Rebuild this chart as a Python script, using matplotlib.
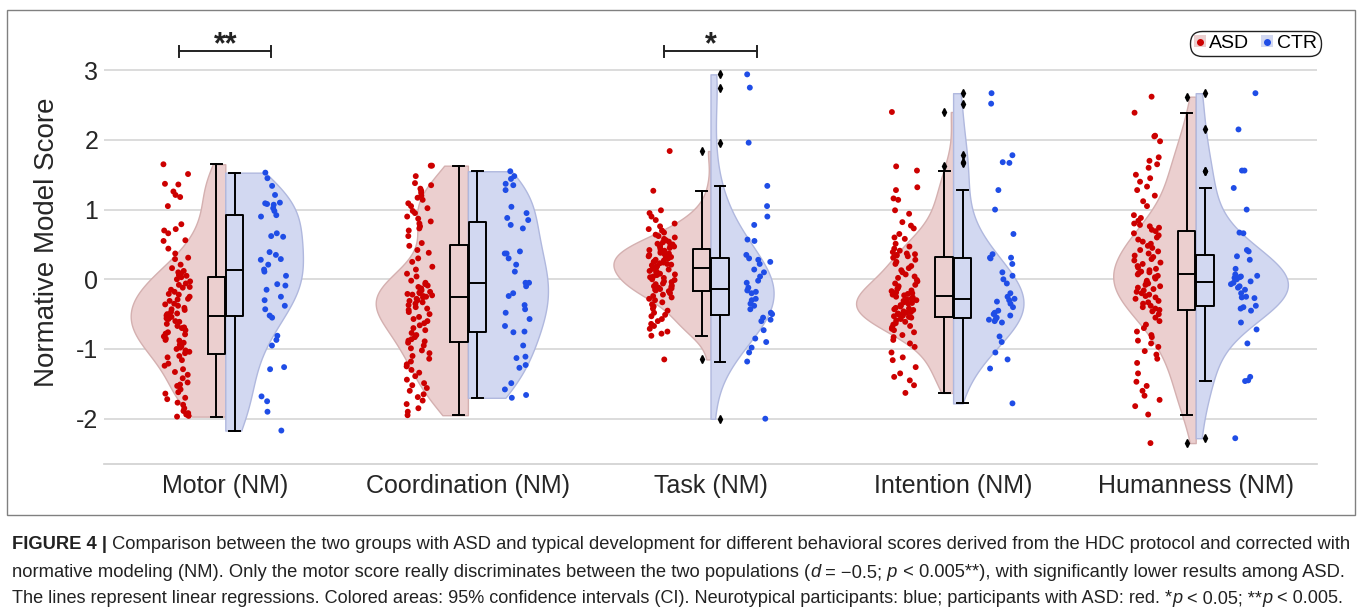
import numpy as np
import matplotlib
matplotlib.use('Agg')
import matplotlib.pyplot as plt
from matplotlib.patches import Patch, Rectangle
from matplotlib.lines import Line2D
from matplotlib import font_manager

categories = ['Motor (NM)', 'Coordination (NM)', 'Task (NM)', 'Intention (NM)', 'Humanness (NM)']
groups = ['ASD', 'CTR']

# scores (ASD ~100 per score, CTR ~40 per score)
motor_asd = [1.65, 1.51, 1.37, 1.36, 1.26, 1.21, 1.18, 1.05, 0.79, 0.72,
             0.70, 0.66, 0.56, 0.55, 0.44, 0.37, 0.31, 0.29, 0.21, 0.16,
             0.12, 0.10, 0.08, 0.06, 0.05, 0.03, 0.00, -0.03, -0.06, -0.08,
             -0.11, -0.12, -0.15, -0.18, -0.21, -0.22, -0.25, -0.28, -0.29, -0.31,
             -0.35, -0.36, -0.38, -0.41, -0.43, -0.44, -0.47, -0.49, -0.50, -0.52,
             -0.54, -0.56, -0.57, -0.60, -0.61, -0.64, -0.67, -0.69, -0.70, -0.73,
             -0.76, -0.78, -0.79, -0.82, -0.85, -0.87, -0.88, -0.91, -0.94, -0.96,
             -0.98, -1.00, -1.02, -1.04, -1.06, -1.10, -1.12, -1.16, -1.21, -1.24,
             -1.29, -1.33, -1.37, -1.42, -1.48, -1.51, -1.53, -1.58, -1.62, -1.64,
             -1.70, -1.72, -1.77, -1.80, -1.85, -1.89, -1.92, -1.94, -1.96, -1.97]
motor_ctr = [1.53, 1.45, 1.34, 1.21, 1.10, 1.09, 1.08, 1.07, 1.02, 0.98,
             0.90, 0.92, 0.66, 0.62, 0.61, 0.39, 0.35, 0.29, 0.28, 0.21,
             0.14, 0.11, 0.05, -0.07, -0.09, -0.15, -0.25, -0.30, -0.38, -0.43,
             -0.52, -0.55, -0.81, -0.87, -0.95, -1.26, -1.29, -1.68, -1.75, -1.90,
             -2.17]

coord_asd = [1.63, 1.63, 1.48, 1.38, 1.35, 1.30, 1.27, 1.24, 1.20, 1.17,
             1.14, 1.09, 1.05, 1.02, 0.98, 0.95, 0.90, 0.87, 0.83, 0.80,
             0.76, 0.73, 0.70, 0.62, 0.52, 0.48, 0.42, 0.38, 0.30, 0.25,
             0.18, 0.14, 0.08, 0.04, -0.02, -0.05, -0.07, -0.09, -0.11, -0.13,
             -0.14, -0.16, -0.18, -0.19, -0.20, -0.21, -0.22, -0.23, -0.24, -0.25,
             -0.26, -0.28, -0.30, -0.31, -0.33, -0.35, -0.37, -0.40, -0.42, -0.44,
             -0.47, -0.50, -0.54, -0.57, -0.60, -0.63, -0.66, -0.70, -0.73, -0.77,
             -0.80, -0.83, -0.86, -0.88, -0.89, -0.91, -0.95, -0.99, -1.02, -1.06,
             -1.10, -1.14, -1.18, -1.22, -1.25, -1.30, -1.34, -1.39, -1.44, -1.49,
             -1.52, -1.56, -1.60, -1.65, -1.69, -1.74, -1.79, -1.85, -1.90, -1.95]
coord_ctr = [1.55, 1.48, 1.44, 1.37, 1.35, 1.28, 1.04, 0.95, 0.88, 0.85,
             0.78, 0.73, 0.40, 0.37, 0.37, 0.30, 0.21, 0.11, -0.05, -0.05,
             -0.10, -0.20, -0.24, -0.37, -0.43, -0.48, -0.57, -0.67, -0.75, -0.76,
             -0.95, -1.11, -1.13, -1.23, -1.27, -1.49, -1.58, -1.66, -1.70]

task_asd = [1.84, 1.27, 0.99, 0.95, 0.90, 0.85, 0.80, 0.76, 0.72, 0.70,
            0.67, 0.64, 0.62, 0.60, 0.58, 0.56, 0.54, 0.53, 0.51, 0.50,
            0.49, 0.48, 0.47, 0.46, 0.45, 0.43, 0.42, 0.41, 0.40, 0.38,
            0.37, 0.36, 0.35, 0.33, 0.32, 0.31, 0.30, 0.28, 0.27, 0.26,
            0.25, 0.24, 0.23, 0.22, 0.21, 0.20, 0.19, 0.18, 0.17, 0.16,
            0.15, 0.14, 0.12, 0.11, 0.10, 0.08, 0.07, 0.06, 0.04, 0.03,
            0.02, 0.00, -0.01, -0.03, -0.04, -0.06, -0.07, -0.09, -0.10, -0.11,
            -0.12, -0.13, -0.14, -0.15, -0.16, -0.17, -0.18, -0.20, -0.22, -0.24,
            -0.26, -0.28, -0.30, -0.33, -0.36, -0.39, -0.42, -0.45, -0.48, -0.51,
            -0.53, -0.57, -0.60, -0.64, -0.67, -0.71, -0.75, -0.78, -0.81, -1.15]
task_ctr = [2.94, 2.75, 1.96, 1.34, 1.05, 0.90, 0.78, 0.57, 0.55, 0.35,
            0.30, 0.28, 0.25, 0.22, 0.14, 0.10, 0.04, -0.02, -0.05, -0.12,
            -0.16, -0.18, -0.20, -0.28, -0.30, -0.35, -0.38, -0.43, -0.48, -0.50,
            -0.55, -0.58, -0.60, -0.73, -0.85, -0.90, -0.98, -1.05, -1.18, -2.00]

intent_asd = [2.40, 1.62, 1.56, 1.32, 1.28, 1.16, 1.14, 0.99, 0.94, 0.82,
              0.77, 0.73, 0.65, 0.60, 0.58, 0.51, 0.47, 0.44, 0.41, 0.39,
              0.37, 0.36, 0.35, 0.34, 0.33, 0.31, 0.28, 0.25, 0.22, 0.19,
              0.16, 0.13, 0.10, 0.07, 0.04, 0.02, -0.01, -0.03, -0.06, -0.08,
              -0.10, -0.12, -0.14, -0.16, -0.17, -0.19, -0.20, -0.21, -0.22, -0.23,
              -0.25, -0.26, -0.28, -0.29, -0.30, -0.31, -0.33, -0.34, -0.35, -0.37,
              -0.38, -0.39, -0.41, -0.42, -0.43, -0.44, -0.46, -0.47, -0.48, -0.49,
              -0.50, -0.51, -0.52, -0.53, -0.54, -0.55, -0.57, -0.59, -0.61, -0.63,
              -0.65, -0.67, -0.69, -0.71, -0.73, -0.76, -0.80, -0.83, -0.87, -0.92,
              -0.97, -1.05, -1.12, -1.16, -1.26, -1.35, -1.40, -1.45, -1.52, -1.63]
intent_ctr = [2.67, 2.52, 1.78, 1.68, 1.67, 1.28, 1.00, 0.65, 0.36, 0.31,
              0.31, 0.30, 0.22, 0.10, 0.05, 0.00, -0.06, -0.20, -0.25, -0.28,
              -0.30, -0.32, -0.35, -0.40, -0.45, -0.48, -0.50, -0.52, -0.55, -0.57,
              -0.58, -0.60, -0.62, -0.82, -0.90, -1.05, -1.15, -1.28, -1.78]

human_asd = [2.62, 2.39, 2.06, 2.05, 1.98, 1.75, 1.70, 1.65, 1.60, 1.50,
             1.45, 1.40, 1.33, 1.28, 1.20, 1.12, 1.05, 0.92, 0.88, 0.84,
             0.80, 0.78, 0.76, 0.74, 0.71, 0.69, 0.66, 0.63, 0.60, 0.57,
             0.54, 0.51, 0.48, 0.45, 0.42, 0.40, 0.37, 0.34, 0.32, 0.29,
             0.27, 0.24, 0.22, 0.19, 0.17, 0.15, 0.13, 0.11, 0.10, 0.09,
             0.07, 0.05, 0.03, 0.01, -0.02, -0.04, -0.06, -0.08, -0.10, -0.12,
             -0.14, -0.16, -0.18, -0.20, -0.22, -0.24, -0.26, -0.28, -0.31, -0.33,
             -0.35, -0.38, -0.40, -0.42, -0.44, -0.46, -0.50, -0.55, -0.60, -0.65,
             -0.70, -0.75, -0.80, -0.83, -0.88, -0.92, -0.97, -1.03, -1.08, -1.14,
             -1.20, -1.35, -1.47, -1.53, -1.60, -1.67, -1.73, -1.82, -1.94, -2.35]
human_ctr = [2.67, 2.15, 1.56, 1.56, 1.31, 1.00, 0.67, 0.66, 0.42, 0.40,
             0.33, 0.28, 0.15, 0.07, 0.05, 0.04, 0.03, 0.02, 0.00, -0.03,
             -0.05, -0.07, -0.10, -0.12, -0.15, -0.20, -0.25, -0.26, -0.27, -0.38,
             -0.40, -0.42, -0.45, -0.62, -0.72, -0.92, -1.40, -1.45, -1.46, -2.28]

asd_data = [motor_asd, coord_asd, task_asd, intent_asd, human_asd]
ctr_data = [motor_ctr, coord_ctr, task_ctr, intent_ctr, human_ctr]

signif_cats = [0, 2]
signif_marks = ['**', '*']

# half-violin widths (x units)
asd_w = [0.39, 0.38, 0.40, 0.40, 0.34]
ctr_w = [0.32, 0.33, 0.26, 0.29, 0.38]

asd_dot = '#cc0000'
ctr_dot = '#1f4de6'
asd_fill = '#ebcfcf'
ctr_fill = '#d2d8f1'
asd_edge = '#d4b0b0'
ctr_edge = '#b0b8de'

plt.rcParams['font.family'] = ['Liberation Sans', 'DejaVu Sans']
plt.rcParams['axes.unicode_minus'] = False


def kde_curve(vals, npts=200):
    v = np.asarray(vals)
    bw = v.std(ddof=1) * len(v) ** (-0.2)
    grid = np.linspace(v.min(), v.max(), npts)
    dens = np.exp(-0.5 * ((grid[:, None] - v[None, :]) / bw) ** 2).sum(axis=1)
    return grid, dens / dens.max()


def jitter(n, k):
    i = np.arange(n)
    return (np.abs(np.sin(i * 12.9898 + k * 78.233)) * 43758.5453) % 1.0


W, H = 1358, 612
fig = plt.figure(figsize=(W / 100, H / 100), dpi=100)
ax = fig.add_axes([104 / W, 1 - 464 / H, 1213 / W, 444 / H])

pos = np.arange(len(categories))
for i in pos:
    g, d = kde_curve(asd_data[i])
    ax.fill_betweenx(g, i - d * asd_w[i], i, facecolor=asd_fill, edgecolor=asd_edge, lw=1, zorder=1)
    g, d = kde_curve(ctr_data[i])
    ax.fill_betweenx(g, i, i + d * ctr_w[i], facecolor=ctr_fill, edgecolor=ctr_edge, lw=1, zorder=1)

    ya = np.asarray(asd_data[i])
    ax.scatter(i - 0.2 + (jitter(len(ya), 2 * i) - 0.5) * 0.11, ya, s=18, color=asd_dot,
               edgecolors='none', zorder=4)
    yc = np.asarray(ctr_data[i])
    ax.scatter(i + 0.2 + (jitter(len(yc), 2 * i + 1) - 0.5) * 0.11, yc, s=18, color=ctr_dot,
               edgecolors='none', zorder=4)

line_kw = dict(color='black', lw=1.4)
flier_kw = dict(marker='d', markerfacecolor='black', markeredgecolor='black', markersize=4)
for data, off in [(asd_data, -0.037), (ctr_data, 0.039)]:
    ax.boxplot(data, positions=pos + off, widths=0.072, whis=1.5, manage_ticks=False,
               boxprops=line_kw, whiskerprops=line_kw, capprops=line_kw, medianprops=line_kw,
               flierprops=flier_kw, capwidths=0.045, zorder=3)

# significance brackets
for c, m in zip(signif_cats, signif_marks):
    ax.plot([c - 0.19, c + 0.19], [3.27, 3.27], color='#222222', lw=1.4, clip_on=False)
    for xe in (c - 0.19, c + 0.19):
        ax.plot([xe, xe], [3.19, 3.35], color='#222222', lw=1.4, clip_on=False)
    ax.text(c, 3.25, m, ha='center', va='baseline', fontsize=22, fontweight='bold', color='#222222')

ax.set_xlim(-0.5, len(categories) - 0.5)
ax.set_ylim(-2.65, 3.72)
ax.set_yticks([-2, -1, 0, 1, 2, 3])
ax.set_xticks(pos)
ax.set_xticklabels(categories)
ax.tick_params(axis='both', length=0, labelsize=18, colors='#262626')
ax.tick_params(axis='x', pad=7)
ax.tick_params(axis='y', pad=4)
ax.set_ylabel('Normative Model Score', fontsize=20, color='#262626', labelpad=12)
ax.yaxis.grid(True, color='#d6d6d6', lw=1.2)
ax.set_axisbelow(True)
for s in ['top', 'right', 'left']:
    ax.spines[s].set_visible(False)
ax.spines['bottom'].set_color('#cfcfcf')
ax.spines['bottom'].set_linewidth(1.2)

handles = [(Patch(facecolor=asd_fill, edgecolor='none'),
            Line2D([], [], marker='o', ls='', color=asd_dot, markersize=4)),
           (Patch(facecolor=ctr_fill, edgecolor='none'),
            Line2D([], [], marker='o', ls='', color=ctr_dot, markersize=4))]
leg = ax.legend(handles, groups, loc='upper right', bbox_to_anchor=(1.003, 0.975), ncol=2,
                fontsize=14, handlelength=0.6, handleheight=0.6, handletextpad=0.2,
                columnspacing=0.6, borderpad=0.2, borderaxespad=0, frameon=True, fancybox=True)
frame = leg.get_frame()
frame.set_boxstyle('round', pad=0, rounding_size=0.6)
frame.set_edgecolor('#222222')
frame.set_linewidth(1.0)
frame.set_alpha(1)

# outer figure frame
fig.add_artist(Rectangle((7 / W, 1 - 515 / H), 1348 / W, 505 / H, transform=fig.transFigure,
                         fill=False, edgecolor='#808080', lw=1))

# caption
names = {f.name for f in font_manager.fontManager.ttflist}
cap_font = 'Liberation Sans Narrow' if 'Liberation Sans Narrow' in names else 'Liberation Sans'
renderer = fig.canvas.get_renderer()

cap_lines = [
    [('FIGURE 4 |', 'b'),
     (' Comparison between the two groups with ASD and typical development for different behavioral '
      'scores derived from the HDC protocol and corrected with', 'n')],
    [('normative modeling (NM). Only the motor score really discriminates between the two populations (', 'n'),
     ('d', 'i'), (' = \u22120.5;', 'n'), (' p', 'i'),
     (' < 0.005**), with significantly lower results among ASD.', 'n')],
    [('The lines represent linear regressions. Colored areas: 95% confidence intervals (CI). '
      'Neurotypical participants: blue; participants with ASD: red. *', 'n'),
     ('p', 'i'), (' < 0.05; **', 'n'), ('p', 'i'), (' < 0.005.', 'n')],
]
cap_y = [1 - 549 / H, 1 - 577 / H, 1 - 603 / H]


def draw_caption_line(y, segs, size):
    texts = []
    x = 12 / W
    for s, st in segs:
        t = fig.text(x, y, s, fontsize=size, family=cap_font, color='#222222', va='baseline',
                     fontweight='bold' if st == 'b' else 'normal',
                     fontstyle='italic' if st == 'i' else 'normal')
        x += t.get_window_extent(renderer).width / W
        texts.append(t)
    return texts, x * W - 12


for y, segs in zip(cap_y, cap_lines):
    texts, width = draw_caption_line(y, segs, 13)
    for t in texts:
        t.remove()
    draw_caption_line(y, segs, 13 * 1334 / width)

fig.savefig('out.png', dpi=100)
